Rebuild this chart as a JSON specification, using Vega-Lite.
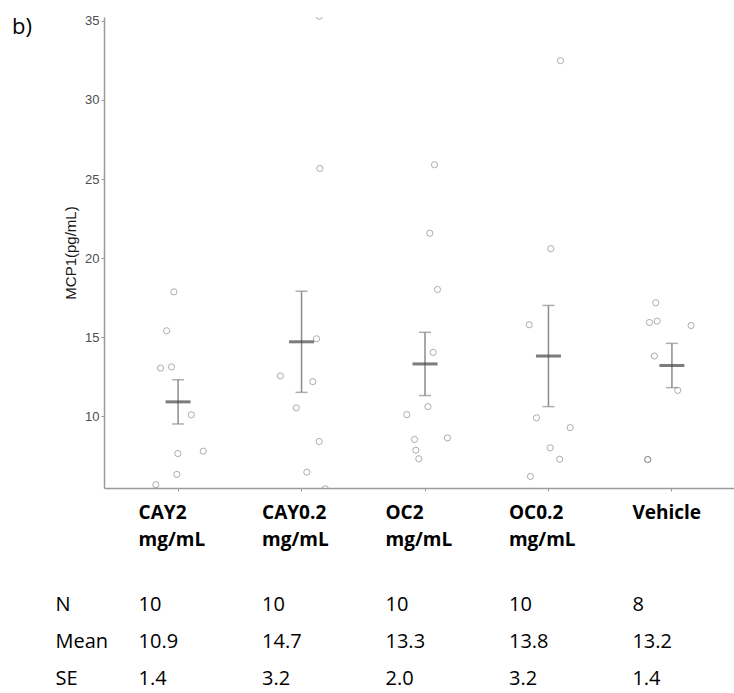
{
  "$schema": "https://vega.github.io/schema/vega-lite/v6.json",
  "padding": {"left": 12, "top": 14, "right": 0, "bottom": 0},
  "spacing": 36,
  "title": {"text": "b)", "anchor": "start", "frame": "bounds", "font": "Open Sans", "fontSize": 22, "fontWeight": "normal", "color": "#000000", "offset": -24, "dx": -43},
  "config": {
    "view": {"stroke": null},
    "axis": {"grid": false}
  },
  "datasets": {
    "points": [
      {"group": "CAY2 mg/mL", "value": 17.86, "jitter": -0.034},
      {"group": "CAY2 mg/mL", "value": 15.40, "jitter": -0.093},
      {"group": "CAY2 mg/mL", "value": 13.04, "jitter": -0.142},
      {"group": "CAY2 mg/mL", "value": 13.11, "jitter": -0.053},
      {"group": "CAY2 mg/mL", "value": 10.08, "jitter": 0.107},
      {"group": "CAY2 mg/mL", "value": 7.63, "jitter": -0.002},
      {"group": "CAY2 mg/mL", "value": 7.78, "jitter": 0.204},
      {"group": "CAY2 mg/mL", "value": 6.31, "jitter": -0.010},
      {"group": "CAY2 mg/mL", "value": 5.66, "jitter": -0.180},
      {"group": "CAY0.2 mg/mL", "value": 35.3, "jitter": 0.143},
      {"group": "CAY0.2 mg/mL", "value": 25.67, "jitter": 0.148},
      {"group": "CAY0.2 mg/mL", "value": 14.89, "jitter": 0.121},
      {"group": "CAY0.2 mg/mL", "value": 12.54, "jitter": -0.172},
      {"group": "CAY0.2 mg/mL", "value": 12.18, "jitter": 0.091},
      {"group": "CAY0.2 mg/mL", "value": 10.52, "jitter": -0.043},
      {"group": "CAY0.2 mg/mL", "value": 8.39, "jitter": 0.143},
      {"group": "CAY0.2 mg/mL", "value": 6.45, "jitter": 0.043},
      {"group": "CAY0.2 mg/mL", "value": 5.4, "jitter": 0.192},
      {"group": "OC2 mg/mL", "value": 25.90, "jitter": 0.077},
      {"group": "OC2 mg/mL", "value": 21.57, "jitter": 0.039},
      {"group": "OC2 mg/mL", "value": 18.01, "jitter": 0.101},
      {"group": "OC2 mg/mL", "value": 14.03, "jitter": 0.066},
      {"group": "OC2 mg/mL", "value": 10.60, "jitter": 0.023},
      {"group": "OC2 mg/mL", "value": 10.09, "jitter": -0.147},
      {"group": "OC2 mg/mL", "value": 8.52, "jitter": -0.085},
      {"group": "OC2 mg/mL", "value": 8.62, "jitter": 0.182},
      {"group": "OC2 mg/mL", "value": 7.84, "jitter": -0.074},
      {"group": "OC2 mg/mL", "value": 7.30, "jitter": -0.050},
      {"group": "OC0.2 mg/mL", "value": 32.49, "jitter": 0.097},
      {"group": "OC0.2 mg/mL", "value": 20.59, "jitter": 0.019},
      {"group": "OC0.2 mg/mL", "value": 15.78, "jitter": -0.156},
      {"group": "OC0.2 mg/mL", "value": 9.89, "jitter": -0.097},
      {"group": "OC0.2 mg/mL", "value": 9.27, "jitter": 0.176},
      {"group": "OC0.2 mg/mL", "value": 7.99, "jitter": 0.014},
      {"group": "OC0.2 mg/mL", "value": 7.27, "jitter": 0.091},
      {"group": "OC0.2 mg/mL", "value": 6.18, "jitter": -0.146},
      {"group": "Vehicle", "value": 17.17, "jitter": -0.131},
      {"group": "Vehicle", "value": 15.92, "jitter": -0.182},
      {"group": "Vehicle", "value": 16.01, "jitter": -0.120},
      {"group": "Vehicle", "value": 15.73, "jitter": 0.155},
      {"group": "Vehicle", "value": 13.80, "jitter": -0.142},
      {"group": "Vehicle", "value": 11.63, "jitter": 0.047},
      {"group": "Vehicle", "value": 7.25, "jitter": -0.196},
      {"group": "Vehicle", "value": 7.25, "jitter": -0.196}
    ],
    "summary": [
      {"group": "CAY2 mg/mL", "n": 10, "mean": 10.9, "se": 1.4},
      {"group": "CAY0.2 mg/mL", "n": 10, "mean": 14.7, "se": 3.2},
      {"group": "OC2 mg/mL", "n": 10, "mean": 13.3, "se": 2.0},
      {"group": "OC0.2 mg/mL", "n": 10, "mean": 13.8, "se": 3.2},
      {"group": "Vehicle", "n": 8, "mean": 13.2, "se": 1.4}
    ],
    "table": [
      {"group": "CAY2 mg/mL", "stat": "N", "text": "10"},
      {"group": "CAY0.2 mg/mL", "stat": "N", "text": "10"},
      {"group": "OC2 mg/mL", "stat": "N", "text": "10"},
      {"group": "OC0.2 mg/mL", "stat": "N", "text": "10"},
      {"group": "Vehicle", "stat": "N", "text": "8"},
      {"group": "CAY2 mg/mL", "stat": "Mean", "text": "10.9"},
      {"group": "CAY0.2 mg/mL", "stat": "Mean", "text": "14.7"},
      {"group": "OC2 mg/mL", "stat": "Mean", "text": "13.3"},
      {"group": "OC0.2 mg/mL", "stat": "Mean", "text": "13.8"},
      {"group": "Vehicle", "stat": "Mean", "text": "13.2"},
      {"group": "CAY2 mg/mL", "stat": "SE", "text": "1.4"},
      {"group": "CAY0.2 mg/mL", "stat": "SE", "text": "3.2"},
      {"group": "OC2 mg/mL", "stat": "SE", "text": "2.0"},
      {"group": "OC0.2 mg/mL", "stat": "SE", "text": "3.2"},
      {"group": "Vehicle", "stat": "SE", "text": "1.4"}
    ]
  },
  "vconcat": [
    {
      "width": 642,
      "height": 471,
      "layer": [
        {
          "data": {"name": "points"},
          "mark": {"type": "point", "shape": "circle", "filled": false, "size": 38, "stroke": "#666666", "strokeWidth": 1, "strokeOpacity": 0.75, "clip": true},
          "encoding": {
            "x": {"field": "group", "type": "nominal", "sort": null,
                  "scale": {"type": "band", "paddingInner": 0, "paddingOuter": 0.1},
                  "axis": {"title": null, "labelAngle": 0, "labelExpr": "split(datum.label, ' ')", "labelAlign": "left", "labelBaseline": "top", "labelOffset": -39.5, "labelPadding": 12.5, "labelLineHeight": 27, "labelFont": "Open Sans", "labelFontSize": 19, "labelFontWeight": "bold", "labelColor": "#000000", "tickSize": 3, "tickColor": "#9a9a9a", "domainColor": "#9a9a9a", "domainWidth": 1.5}},
            "xOffset": {"field": "jitter", "type": "quantitative", "scale": {"domain": [-0.5, 0.5]}},
            "y": {"field": "value", "type": "quantitative", "title": "MCP1(pg/mL)",
                  "scale": {"domain": [5.45, 35.25], "nice": false, "zero": false},
                  "axis": {"values": [10, 15, 20, 25, 30, 35], "titleFont": "Liberation Sans", "titleFontSize": 15, "titleFontWeight": "normal", "titleColor": "#1a1a1a", "titlePadding": 6, "labelFont": "Liberation Sans", "labelFontSize": 13, "labelColor": "#4d4d4d", "labelPadding": 2, "tickSize": 3, "tickColor": "#9a9a9a", "domainColor": "#9a9a9a", "domainWidth": 1.5}}
          }
        },
        {
          "data": {"name": "summary"},
          "mark": {"type": "errorbar", "color": "#8c8c8c", "thickness": 1.5, "ticks": {"size": 12, "thickness": 1.5, "color": "#8c8c8c"}},
          "encoding": {
            "x": {"field": "group", "type": "nominal", "sort": null},
            "y": {"field": "mean", "type": "quantitative", "title": "MCP1(pg/mL)", "scale": {"domain": [5.45, 35.25], "nice": false, "zero": false}},
            "yError": {"field": "se"}
          }
        },
        {
          "data": {"name": "summary"},
          "mark": {"type": "tick", "size": 25, "thickness": 3, "color": "#454545"},
          "encoding": {
            "x": {"field": "group", "type": "nominal", "sort": null},
            "y": {"field": "mean", "type": "quantitative", "title": "MCP1(pg/mL)", "scale": {"domain": [5.45, 35.25], "nice": false, "zero": false}}
          }
        }
      ]
    },
    {
      "width": 642,
      "height": 111,
      "data": {"name": "table"},
      "mark": {"type": "text", "align": "left", "baseline": "middle", "dx": -39.5, "font": "Open Sans", "fontSize": 20, "color": "#000000"},
      "encoding": {
        "x": {"field": "group", "type": "nominal", "sort": ["CAY2 mg/mL", "CAY0.2 mg/mL", "OC2 mg/mL", "OC0.2 mg/mL", "Vehicle"],
              "scale": {"type": "band", "paddingInner": 0, "paddingOuter": 0.1}, "axis": null},
        "y": {"field": "stat", "type": "nominal", "sort": ["N", "Mean", "SE"],
              "scale": {"type": "point", "padding": 0.5},
              "axis": {"title": null, "domain": false, "ticks": false, "labelAlign": "left", "labelPadding": 49, "labelFont": "Open Sans", "labelFontSize": 20, "labelColor": "#000000"}},
        "text": {"field": "text"}
      }
    }
  ]
}
